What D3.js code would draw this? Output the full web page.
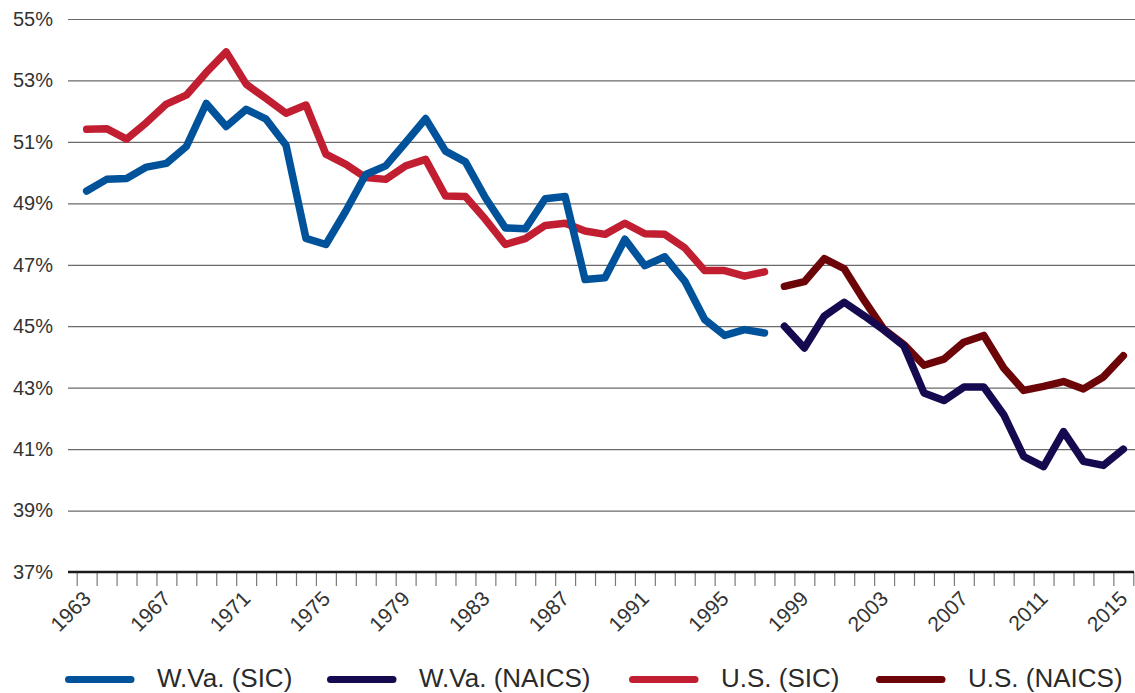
<!DOCTYPE html>
<html>
<head>
<meta charset="utf-8">
<script src="https://cdn.jsdelivr.net/npm/d3@7"></script>
<style>
  html, body { margin: 0; padding: 0; background: #fff; }
  svg { display: block; }
  text { font-family: "Liberation Sans", Arial, Helvetica, sans-serif; }
</style>
</head>
<body>
<svg id="chart" width="1135" height="693"></svg>
<script>
// ---- Data ----
const sicYears = d3.range(1963, 1998);   // 1963..1997
const naicsYears = d3.range(1998, 2016); // 1998..2015

const wvaSIC = [49.4, 49.78, 49.81, 50.18, 50.3, 50.85, 52.25, 51.5, 52.06, 51.74,
  50.89, 47.86, 47.66, 48.75, 49.94, 50.22, 50.98, 51.76, 50.7, 50.35,
  49.18, 48.2, 48.17, 49.15, 49.22, 46.52, 46.58, 47.83, 46.97, 47.26,
  46.47, 45.22, 44.7, 44.89, 44.78];
const usSIC = [51.41, 51.43, 51.09, 51.63, 52.23, 52.52, 53.26, 53.93, 52.88, 52.41,
  51.93, 52.2, 50.6, 50.27, 49.84, 49.78, 50.22, 50.43, 49.24, 49.22,
  48.48, 47.66, 47.85, 48.28, 48.35, 48.1, 47.99, 48.35, 48.01, 47.99,
  47.55, 46.81, 46.81, 46.63, 46.77];
const wvaNAICS = [45.0, 44.29, 45.33, 45.78, 45.34, 44.87, 44.35, 42.83, 42.58, 43.02,
  43.02, 42.12, 40.76, 40.43, 41.57, 40.6, 40.47, 41.0];
const usNAICS = [46.3, 46.45, 47.2, 46.87, 45.84, 44.89, 44.4, 43.73, 43.93, 44.48,
  44.7, 43.64, 42.91, 43.04, 43.2, 42.96, 43.35, 44.04];

const yTicks = [37, 39, 41, 43, 45, 47, 49, 51, 53, 55];
const xLabelYears = d3.range(1963, 2016, 4);
const seriesNames = ["W.Va. (SIC)", "W.Va. (NAICS)", "U.S. (SIC)", "U.S. (NAICS)"];
const seriesColors = ["#00539b", "#150a4f", "#c11f31", "#6c0508"];

// ---- Layout ----
const svg = d3.select("#chart");
const plotLeft = 68, plotRight = 1135, plotTop = 19, plotBottom = 572;

const x = d3.scaleLinear().domain([1962.5, 2015.5]).range([76.7, 1133.3]);
const y = d3.scaleLinear().domain([37, 55]).range([plotBottom, plotTop]);

// Y gridlines + labels
const yAxis = d3.axisLeft(y)
  .tickValues(yTicks)
  .tickSize(-(plotRight - plotLeft))
  .tickPadding(15)
  .tickFormat(d => d + "%");
const gy = svg.append("g").attr("transform", `translate(${plotLeft},0)`).call(yAxis);
gy.select(".domain").remove();
gy.selectAll(".tick line").attr("stroke", "#6a6a6a").attr("stroke-width", 1.2)
  .filter(d => d === 37).remove();
gy.selectAll(".tick text").attr("fill", "#333").style("font-size", "20px");

// X ticks at year boundaries
const xTickAxis = d3.axisBottom(x)
  .tickValues(d3.range(1962.5, 2016, 1))
  .tickSize(14)
  .tickFormat("");
const gx = svg.append("g").attr("transform", `translate(0,${plotBottom})`).call(xTickAxis);
gx.select(".domain").remove();
gx.selectAll(".tick line").attr("stroke", "#7a7a7a").attr("stroke-width", 1.2);

// X labels
const xLabelAxis = d3.axisBottom(x)
  .tickValues(xLabelYears)
  .tickSize(0)
  .tickFormat(d3.format("d"));
const gxl = svg.append("g").attr("transform", `translate(0,${plotBottom})`).call(xLabelAxis);
gxl.select(".domain").remove();
gxl.selectAll(".tick text")
  .attr("fill", "#333")
  .style("font-size", "21px")
  .attr("text-anchor", "end")
  .attr("dy", null)
  .attr("y", null)
  .attr("transform", "translate(5,28) rotate(-45)");

// Axis baseline
svg.append("line")
  .attr("x1", plotLeft).attr("x2", 1134)
  .attr("y1", y(37)).attr("y2", y(37))
  .attr("stroke", "#1a1a1a").attr("stroke-width", 2.6);

// Lines
const line = d3.line()
  .x(d => x(d[0]))
  .y(d => y(d[1]));

const series = [
  sicYears.map((yr, i) => [yr, wvaSIC[i]]),
  naicsYears.map((yr, i) => [yr, wvaNAICS[i]]),
  sicYears.map((yr, i) => [yr, usSIC[i]]),
  naicsYears.map((yr, i) => [yr, usNAICS[i]])
];
const drawOrder = [2, 0, 3, 1];
drawOrder.forEach(k => {
  svg.append("path")
    .datum(series[k])
    .attr("d", line)
    .attr("fill", "none")
    .attr("stroke", seriesColors[k])
    .attr("stroke-width", 7.5)
    .attr("stroke-linejoin", "round")
    .attr("stroke-linecap", "round");
});

// Legend
const legendX = [65, 327, 629, 876];
const legendY = 679.5;
seriesNames.forEach((name, i) => {
  const g = svg.append("g").attr("transform", `translate(${legendX[i]},${legendY})`);
  g.append("line")
    .attr("x1", 3.5).attr("x2", 66)
    .attr("y1", 0).attr("y2", 0)
    .attr("stroke", seriesColors[i])
    .attr("stroke-width", 7)
    .attr("stroke-linecap", "round");
  g.append("text")
    .attr("x", 92)
    .attr("y", 7)
    .attr("fill", "#2a2a2a")
    .style("font-size", "26px")
    .text(name);
});
</script>
</body>
</html>
